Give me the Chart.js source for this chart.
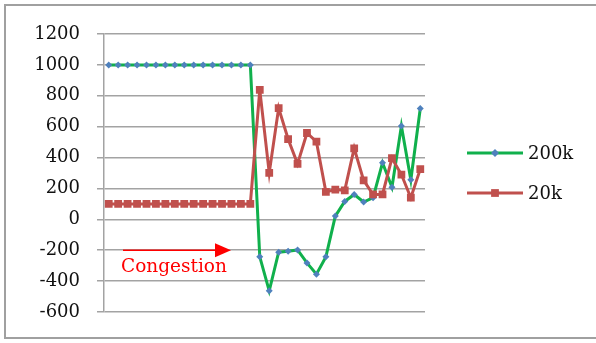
<!DOCTYPE html>
<html lang="en">
<head>
    <meta charset="UTF-8">
    <title>200k vs 20k</title>
    <script src="https://cdn.jsdelivr.net/npm/chart.js"></script>
    <style>
        body { margin: 0; background: #fff; }
        .frame {
            position: absolute; left: 4px; top: 4px;
            width: 620px; height: 335px;
            border: 2px solid #a0a0a0; box-sizing: border-box;
        }
        .wrap { position: absolute; left: 0; top: 0; width: 596px; height: 343px; }
    </style>
</head>
<body>
    <div class="frame"></div>
    <div class="wrap"><canvas id="lineChart" width="596" height="343"></canvas></div>
    <script>
        // x positions are just sample numbers
        var labels = [];
        for (var i = 1; i <= 34; i++) labels.push(i);

        var series200k = [1000, 1000, 1000, 1000, 1000, 1000, 1000, 1000, 1000, 1000, 1000, 1000, 1000, 1000, 1000, 1000,
            -243, -463, -213, -206, -198, -282, -355, -243, 21, 116, 161, 112, 140, 366, 208, 604, 256, 718];
        var series20k = [100, 100, 100, 100, 100, 100, 100, 100, 100, 100, 100, 100, 100, 100, 100, 100,
            838, 301, 720, 520, 359, 559, 503, 178, 193, 187, 460, 252, 161, 161, 396, 290, 140, 325];

        var yTicks = [-600, -400, -200, 0, 200, 400, 600, 800, 1000, 1200];

        var GREEN = '#10b04c', BLUE = '#4f81bd', RED = '#c0504d';
        var FONT = '"DejaVu Serif", serif';

        // legend + congestion arrow drawn on top
        var extras = {
            id: 'extras',
            afterDraw: function (chart) {
                var ctx = chart.ctx;
                ctx.save();
                // legend
                var items = [
                    { text: '200k', line: GREEN, mark: BLUE, y: 153, style: 'rectRot', r: 4 },
                    { text: '20k', line: RED, mark: RED, y: 193, style: 'rect', r: 5.5 }
                ];
                items.forEach(function (it) {
                    ctx.strokeStyle = it.line;
                    ctx.lineWidth = 3;
                    ctx.beginPath();
                    ctx.moveTo(467, it.y);
                    ctx.lineTo(523, it.y);
                    ctx.stroke();
                    ctx.fillStyle = it.mark;
                    Chart.helpers.drawPoint(ctx, { pointStyle: it.style, radius: it.r, borderWidth: 0 }, 495, it.y);
                    ctx.fillStyle = '#111';
                    ctx.font = '18px ' + FONT;
                    ctx.textAlign = 'left';
                    ctx.textBaseline = 'middle';
                    ctx.fillText(it.text, 528, it.y + 1);
                });
                // congestion arrow
                var ay = chart.scales.y.getPixelForValue(-200);
                ctx.strokeStyle = '#ff0000';
                ctx.fillStyle = '#ff0000';
                ctx.lineWidth = 1.5;
                ctx.beginPath();
                ctx.moveTo(123, ay);
                ctx.lineTo(217, ay);
                ctx.stroke();
                ctx.beginPath();
                ctx.moveTo(215, ay - 7);
                ctx.lineTo(231, ay);
                ctx.lineTo(215, ay + 7);
                ctx.closePath();
                ctx.fill();
                ctx.font = '18.5px ' + FONT;
                ctx.textAlign = 'left';
                ctx.textBaseline = 'alphabetic';
                ctx.fillText('Congestion', 121, 272);
                ctx.restore();
            }
        };

        var ctx = document.getElementById('lineChart').getContext('2d');
        var chart = new Chart(ctx, {
            type: 'line',
            data: {
                labels: labels,
                datasets: [{
                    label: '200k',
                    data: series200k,
                    borderColor: GREEN,
                    borderWidth: 3,
                    pointStyle: 'rectRot',
                    pointRadius: 3.5,
                    pointBackgroundColor: BLUE,
                    pointBorderWidth: 0,
                    tension: 0,
                    order: 1
                }, {
                    label: '20k',
                    data: series20k,
                    borderColor: RED,
                    borderWidth: 3,
                    pointStyle: 'rect',
                    pointRadius: 5.5,
                    pointBackgroundColor: RED,
                    pointBorderWidth: 0,
                    tension: 0,
                    order: 0
                }]
            },
            options: {
                responsive: false,
                animation: false,
                events: [],
                layout: { padding: { left: 0, right: 171, top: 34, bottom: 31 } },
                plugins: { legend: { display: false }, tooltip: { enabled: false } },
                scales: {
                    x: {
                        display: false,
                        offset: true
                    },
                    y: {
                        min: -600,
                        max: 1200,
                        afterFit: function (scale) { scale.width = 104; },
                        afterBuildTicks: function (scale) {
                            scale.ticks = yTicks.map(function (v) { return { value: v }; });
                        },
                        grid: { color: '#a3a3a3', lineWidth: 1.5, tickLength: 7 },
                        border: { color: '#a3a3a3', width: 1.5 },
                        ticks: {
                            padding: 17,
                            color: '#111',
                            font: { family: FONT, size: 18 },
                            callback: function (v) { return String(v); }
                        }
                    }
                }
            },
            plugins: [extras]
        });
    </script>
</body>
</html>
